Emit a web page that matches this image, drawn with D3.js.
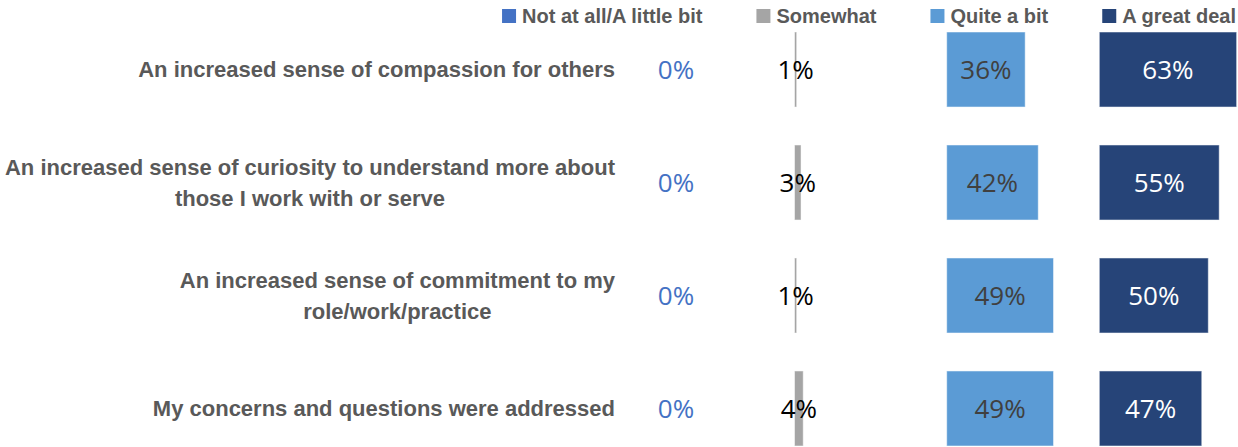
<!DOCTYPE html>
<html>
<head>
<meta charset="utf-8">
<script src="https://cdn.jsdelivr.net/npm/d3@7"></script>
<style>
  body { margin: 0; background: #fff; }
  svg { display: block; }
</style>
</head>
<body>
<div id="chart"></div>
<script>
// survey items and the four answer levels
const items = [
  ["An increased sense of compassion for others"],
  ["An increased sense of curiosity to understand more about", "those I work with or serve"],
  ["An increased sense of commitment to my", "role/work/practice"],
  ["My concerns and questions were addressed"],
];
const levels = ["Not at all/A little bit", "Somewhat", "Quite a bit", "A great deal"];

// percent per level, one value per item
const notAtAll = [0, 0, 0, 0];
const somewhat = [1, 3, 1, 4];
const quiteABit = [36, 42, 49, 49];
const greatDeal = [63, 55, 50, 47];

const series = [notAtAll, somewhat, quiteABit, greatDeal];
const colors = ["#4472C4", "#A5A5A5", "#5B9BD5", "#264478"];
const labelColors = ["#4472C4", "#000000", "#404040", "#ffffff"];

const width = 1238, height = 447;
const svg = d3.select("#chart").append("svg")
  .attr("width", width).attr("height", height);

const itemKeys = items.map((d, i) => i);

const y = d3.scaleBand()
  .domain(itemKeys)
  .range([32, 446])
  .paddingInner(0.336)
  .paddingOuter(0);

// each answer level sits in its own small panel
const panelX = d3.scaleOrdinal()
  .domain(levels)
  .range([676, 794.5, 946.7, 1099.3]);

const x = d3.scaleLinear().domain([0, 100]).range([0, 218]);

const labelFont = "'Liberation Sans Narrow', 'Arial Narrow', sans-serif";
const valueFont = "'Open Sans', 'Liberation Sans', sans-serif";

// legend, laid out from the right edge leftwards
const legend = svg.append("g").attr("class", "legend");
let rx = 1236;
levels.slice().reverse().forEach((lev) => {
  const i = levels.indexOf(lev);
  const g = legend.append("g");
  const t = g.append("text")
    .attr("y", 23)
    .attr("font-family", labelFont)
    .attr("font-weight", "bold")
    .attr("font-size", 20)
    .attr("fill", "#595959")
    .text(lev);
  const w = t.node().getComputedTextLength();
  t.attr("x", rx - w);
  g.append("rect")
    .attr("x", rx - w - 20).attr("y", 9)
    .attr("width", 14).attr("height", 14)
    .attr("fill", colors[i]);
  rx = rx - w - 20 - 54;
});

// category labels, right aligned block, lines centred inside it
const cats = svg.append("g").attr("class", "cats");
items.forEach((lines, i) => {
  const cy = y(i) + y.bandwidth() / 2;
  const lh = 31;
  const t = cats.append("text")
    .attr("font-family", labelFont)
    .attr("font-weight", "bold")
    .attr("font-size", 22)
    .attr("fill", "#595959")
    .attr("text-anchor", "middle");
  const spans = lines.map((ln, j) =>
    t.append("tspan")
      .attr("y", cy + (j - (lines.length - 1) / 2) * lh)
      .attr("dy", "0.35em")
      .text(ln));
  const w = d3.max(spans, s => s.node().getComputedTextLength());
  spans.forEach(s => s.attr("x", 615 - w / 2));
});

// bars and value labels
levels.forEach((lev, si) => {
  const g = svg.append("g").attr("class", "series-" + si);
  const x0 = panelX(lev);
  const vals = series[si];
  g.selectAll("rect")
    .data(vals)
    .join("rect")
    .attr("x", x0)
    .attr("y", (d, i) => y(i))
    .attr("width", d => x(d))
    .attr("height", y.bandwidth())
    .attr("fill", colors[si])
    .attr("stroke", d => d > 0 ? "rgba(255,255,255,0.5)" : "none")
    .attr("stroke-width", 1);
  g.selectAll("text")
    .data(vals)
    .join("text")
    .attr("x", d => x0 + x(d) / 2)
    .attr("y", (d, i) => y(i) + y.bandwidth() / 2)
    .attr("dy", "0.36em")
    .attr("text-anchor", "middle")
    .attr("font-family", valueFont)
    .attr("font-size", 26)
    .attr("fill", labelColors[si])
    .text(d => d + "%");
});
</script>
</body>
</html>
